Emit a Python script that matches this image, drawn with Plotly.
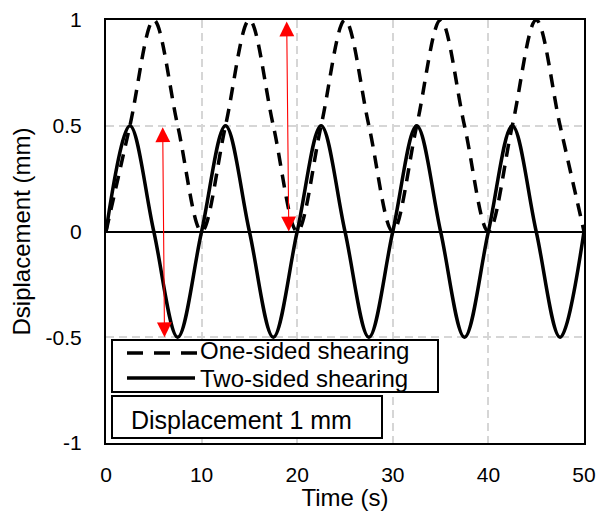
import plotly.graph_objects as go

# ---- data (points every 2.5 s, smoothed line) ----
time_s = [0, 2.5, 5, 7.5, 10, 12.5, 15, 17.5, 20, 22.5, 25,
          27.5, 30, 32.5, 35, 37.5, 40, 42.5, 45, 47.5, 50]
one_sided = [0, 0.5, 1, 0.5, 0, 0.5, 1, 0.5, 0, 0.5, 1,
             0.5, 0, 0.5, 1, 0.5, 0, 0.5, 1, 0.5, 0]
two_sided = [0, 0.5, 0, -0.5, 0, 0.5, 0, -0.5, 0, 0.5, 0,
             -0.5, 0, 0.5, 0, -0.5, 0, 0.5, 0, -0.5, 0]
x_ticks = [0, 10, 20, 30, 40, 50]
y_ticks = [-1, -0.5, 0, 0.5, 1]
y_tick_text = ["-1", "-0.5", "0", "0.5", "1"]
series_names = ["One-sided shearing", "Two-sided shearing"]
box_label = "Displacement 1 mm"
# red arrows: (x_start, y_start, x_end, y_end)
arrow_1 = [5.93, 0.5, 6.12, -0.5]
arrow_2 = [18.9, 1.0, 19.12, 0.0]

FONT = "Liberation Sans, Arial, sans-serif"
W, H = 603, 511
ML, MR, MT, MB = 106, 19, 20, 68
PW, PH = W - ML - MR, H - MT - MB


def px(xp):
    return (xp - ML) / PW


def py(yp):
    return (H - MB - yp) / PH


fig = go.Figure()
fig.add_trace(go.Scatter(
    x=time_s, y=one_sided, mode="lines", name=series_names[0],
    line=dict(color="black", width=3.5, dash="13px,9px", shape="spline", smoothing=1.0),
    showlegend=False))
fig.add_trace(go.Scatter(
    x=time_s, y=two_sided, mode="lines", name=series_names[1],
    line=dict(color="black", width=3.5, shape="spline", smoothing=1.0),
    showlegend=False))

shapes = [
    # legend box
    dict(type="rect", xref="paper", yref="paper", x0=px(112), x1=px(438),
         y0=py(392), y1=py(340), line=dict(color="black", width=2),
         fillcolor="white", layer="above"),
    # legend samples
    dict(type="line", xref="paper", yref="paper", x0=px(127), x1=px(200),
         y0=py(353), y1=py(353), line=dict(color="black", width=3.5, dash="16px,11px"),
         layer="above"),
    dict(type="line", xref="paper", yref="paper", x0=px(127), x1=px(195),
         y0=py(378), y1=py(378), line=dict(color="black", width=3.5),
         layer="above"),
    # text box
    dict(type="rect", xref="paper", yref="paper", x0=px(112), x1=px(382),
         y0=py(438), y1=py(396), line=dict(color="black", width=2),
         fillcolor="white", layer="above"),
]

annotations = [
    dict(xref="paper", yref="paper", x=px(199), y=py(350), text=series_names[0],
         showarrow=False, xanchor="left", yanchor="middle",
         font=dict(family=FONT, size=24, color="black"), borderpad=0),
    dict(xref="paper", yref="paper", x=px(199), y=py(378), text=series_names[1],
         showarrow=False, xanchor="left", yanchor="middle",
         font=dict(family=FONT, size=24, color="black"), borderpad=0),
    dict(xref="paper", yref="paper", x=px(130), y=py(420), text=box_label,
         showarrow=False, xanchor="left", yanchor="middle",
         font=dict(family=FONT, size=25, color="black"), borderpad=0),
]
for a in (arrow_1, arrow_2):
    annotations.append(dict(
        x=a[2], y=a[3], ax=a[0], ay=a[1], xref="x", yref="y", axref="x", ayref="y",
        text="", showarrow=True, arrowside="end+start", arrowhead=2,
        arrowsize=2.7, arrowwidth=1.1, arrowcolor="red", standoff=0, startstandoff=0))

fig.update_layout(
    width=W, height=H, autosize=False,
    margin=dict(l=ML, r=MR, t=MT, b=MB, pad=0),
    paper_bgcolor="white", plot_bgcolor="white",
    font=dict(family=FONT, color="black"),
    shapes=shapes, annotations=annotations,
    xaxis=dict(
        range=[0, 50], tickvals=x_ticks, ticks="", ticklabelstandoff=12,
        automargin=False,
        tickfont=dict(size=21, family=FONT, color="black"),
        showline=True, mirror=True, linecolor="black", linewidth=2,
        showgrid=True, gridcolor="#d6d6d6", gridwidth=2, griddash="8px,5px",
        zeroline=False,
        title=dict(text="Time (s)", font=dict(size=24, family=FONT, color="black"), standoff=0),
    ),
    yaxis=dict(
        range=[-1, 1], tickvals=y_ticks, ticktext=y_tick_text, ticks="",
        ticklabelstandoff=18, automargin=False,
        tickfont=dict(size=21, family=FONT, color="black"),
        showline=True, mirror=True, linecolor="black", linewidth=2,
        showgrid=True, gridcolor="#d6d6d6", gridwidth=2, griddash="8px,5px",
        zeroline=True, zerolinecolor="black", zerolinewidth=1.5,
        title=dict(text="Dsiplacement (mm)", font=dict(size=24, family=FONT, color="black"), standoff=8),
    ),
)

fig.write_html("out.html")
